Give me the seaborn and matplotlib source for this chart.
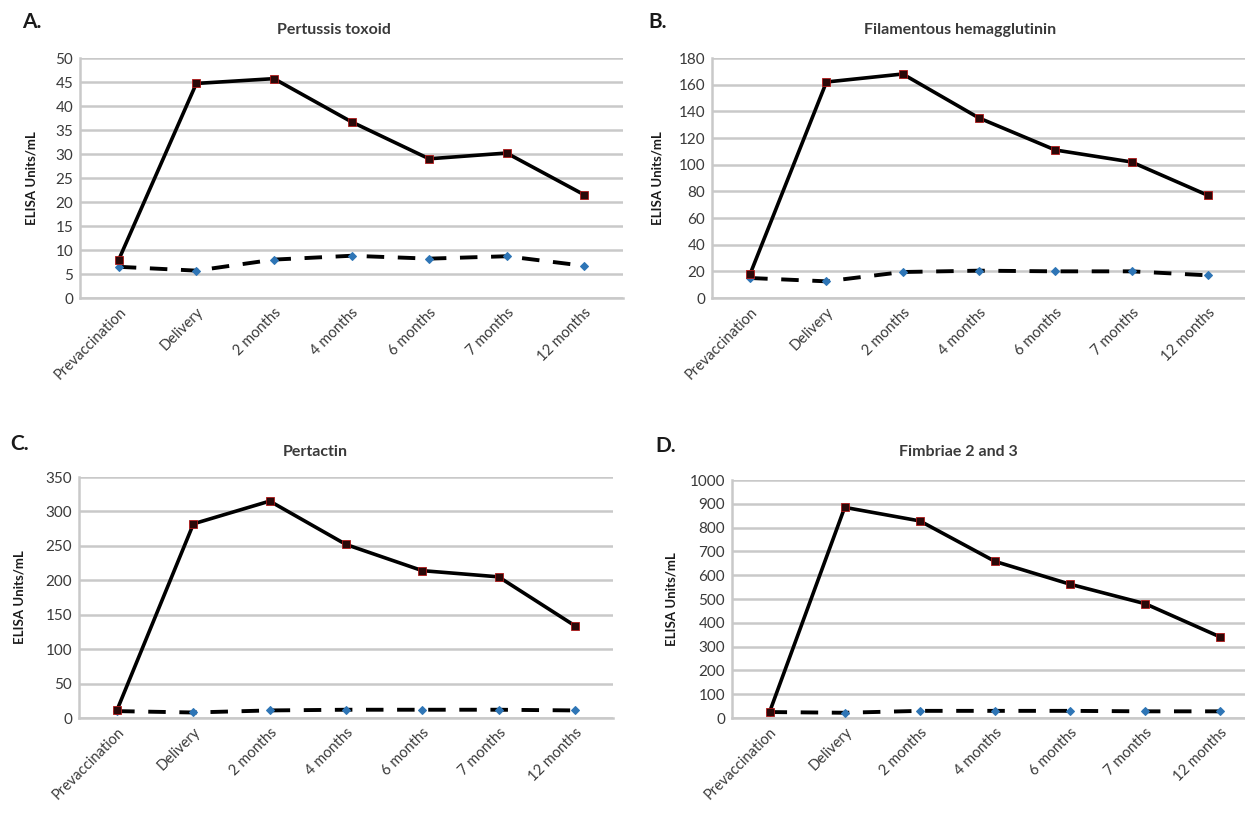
import matplotlib
matplotlib.use("Agg")
import matplotlib.pyplot as plt
import seaborn as sns
import pandas as pd

# Time points on the x axis
timepoints = ["Prevaccination", "Delivery", "2 months", "4 months",
              "6 months", "7 months", "12 months"]

# Values (solid = vaccinated, dashed = control)
pt_solid = [8, 44.7, 45.7, 36.7, 29, 30.2, 21.5]
pt_dashed = [6.5, 5.7, 8, 8.8, 8.2, 8.7, 6.7]
fha_solid = [18, 162, 168, 135, 111, 102, 77]
fha_dashed = [15, 12.5, 19.5, 20.5, 20, 20, 17]
prn_solid = [12, 282, 315, 252, 214, 205, 134]
prn_dashed = [10, 8, 11, 12, 12, 12, 11]
fim_solid = [25, 885, 828, 658, 562, 480, 340]
fim_dashed = [25, 22, 30, 30, 30, 28, 28]

titles = ["Pertussis toxoid", "Filamentous hemagglutinin", "Pertactin", "Fimbriae 2 and 3"]
letters = ["A.", "B.", "C.", "D."]
ymax = [50, 180, 350, 1000]
ystep = [5, 20, 50, 100]

sns.set_style("white")
plt.rcParams["font.family"] = ["Lato", "DejaVu Sans"]

W, H = 1245, 813
fig = plt.figure(figsize=(W / 100, H / 100), dpi=100)

# axes boxes in pixels: left, right, top, bottom
boxes = [(80, 623, 58, 298), (712, 1246, 58, 298),
         (79, 613, 477, 718), (732, 1258, 480, 718)]
title_pos = [(334, 30), (960, 30), (315, 452), (958, 452)]
letter_pos = [(22, 22), (648, 22), (10, 444), (655, 446)]
ylab_x = [32, 658, 20, 672]

series = [(pt_solid, pt_dashed), (fha_solid, fha_dashed),
          (prn_solid, prn_dashed), (fim_solid, fim_dashed)]

grid_col = "#c9c9c9"
text_col = "#3a3a3a"

for i in range(4):
    l, r, t, b = boxes[i]
    ax = fig.add_axes([l / W, 1 - b / H, (r - l) / W, (b - t) / H])
    df = pd.DataFrame({"time": timepoints, "solid": series[i][0], "dashed": series[i][1]})

    sns.lineplot(data=df, x="time", y="dashed", ax=ax, sort=False, color="black",
                 linewidth=2.8, linestyle=(0, (4.5, 3.5)), marker="D", markersize=4.5,
                 markerfacecolor="#2e75b6", markeredgecolor="#2e75b6", zorder=3)
    sns.lineplot(data=df, x="time", y="solid", ax=ax, sort=False, color="black",
                 linewidth=2.6, marker="s", markersize=5.5,
                 markerfacecolor="#2a0808", markeredgecolor="#b01818",
                 markeredgewidth=0.6, zorder=4)

    ax.set_xlim(-0.5, len(timepoints) - 0.5)
    ax.set_ylim(0, ymax[i])
    ax.set_yticks(range(0, ymax[i] + 1, ystep[i]))
    ax.grid(axis="y", color=grid_col, linewidth=1.8)
    ax.set_axisbelow(True)
    for s in ["top", "right"]:
        ax.spines[s].set_visible(False)
    for s in ["left", "bottom"]:
        ax.spines[s].set_color(grid_col)
        ax.spines[s].set_linewidth(1.8)
    ax.tick_params(length=0, labelsize=11, colors=text_col, pad=5)
    ax.set_xticks(range(len(timepoints)))
    ax.set_xticklabels(timepoints, rotation=45, ha="right", rotation_mode="anchor",
                       fontsize=10.5)
    ax.set_xlabel("")
    ax.set_ylabel("")

    fig.text(title_pos[i][0] / W, 1 - title_pos[i][1] / H, titles[i], ha="center",
             va="center", fontsize=11.5, fontweight="bold", color=text_col)
    fig.text(letter_pos[i][0] / W, 1 - letter_pos[i][1] / H, letters[i], ha="left",
             va="center", fontsize=15, fontweight="bold", color="#1a1a1a")
    fig.text(ylab_x[i] / W, 1 - ((t + b) / 2) / H, "ELISA Units/mL", rotation=90,
             ha="center", va="center", fontsize=9.5, fontweight="bold", color="#1a1a1a")

fig.savefig("out.png", dpi=100)
